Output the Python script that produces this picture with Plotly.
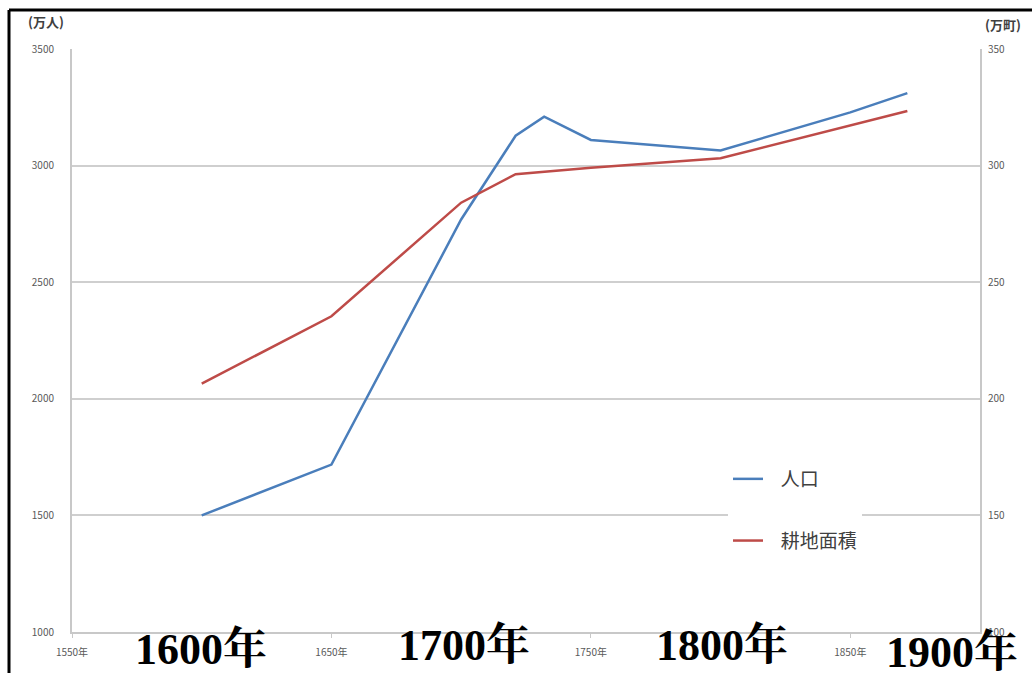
import plotly.graph_objects as go

pop_years = [1600, 1650, 1700, 1721, 1732, 1750, 1800, 1850, 1872]
population = [1500, 1718, 2769, 3128, 3210, 3110, 3065, 3228, 3311]

area_years = [1600, 1650, 1700, 1721, 1750, 1800, 1872]
farmland = [206.5, 235.4, 284.1, 296.3, 299.1, 303.2, 323.4]

x_ticks = [1550, 1650, 1750, 1850]
x_ticktext = ["1550年", "1650年", "1750年", "1850年"]
left_ticks = [1000, 1500, 2000, 2500, 3000, 3500]
right_ticks = [100, 150, 200, 250, 300, 350]
big_labels = ["1600年", "1700年", "1800年", "1900年"]

L, R, T, B = 72, 52, 49, 41
W, H = 1032, 673
pw, ph = W - L - R, H - T - B

def px(x):
    return (x - L) / pw

def py(y):
    return (H - B - y) / ph

NB = "\u00a0\u00a0\u00a0"
fig = go.Figure()
fig.add_trace(go.Scatter(x=pop_years, y=population, mode="lines", name=NB + "人口",
                         legendgroup="a", line=dict(color="#4a7ebb", width=2.5)))
fig.add_trace(go.Scatter(x=area_years, y=farmland, mode="lines", name=NB + "耕地面積",
                         legendgroup="b", yaxis="y2", line=dict(color="#be4b48", width=2.5)))

tickfont = dict(family="Noto Sans CJK JP", size=10, color="#595959")
fig.update_layout(
    width=W, height=H,
    margin=dict(l=L, r=R, t=T, b=B),
    paper_bgcolor="white", plot_bgcolor="white",
    showlegend=True,
    legend=dict(x=px(728), y=py(460), xanchor="left", yanchor="top",
                bgcolor="white", font=dict(family="Noto Sans CJK JP", size=19, color="#404040"),
                tracegroupgap=34, itemwidth=30),
    xaxis=dict(range=[1550, 1900], tickvals=x_ticks, ticktext=x_ticktext,
               showgrid=False, showline=True, linecolor="#c8c8c8", linewidth=2,
               ticks="outside", ticklen=4, tickcolor="#c8c8c8", tickfont=tickfont,
               zeroline=False, ticklabelstandoff=6),
    yaxis=dict(range=[1000, 3500], tickvals=left_ticks, showgrid=True,
               gridcolor="#cfcfcf", gridwidth=2, showline=True, linecolor="#c8c8c8",
               linewidth=2, ticks="", tickfont=tickfont, zeroline=False, ticklabelstandoff=14),
    yaxis2=dict(range=[100, 350], tickvals=right_ticks, overlaying="y", side="right",
                showgrid=False, showline=True, linecolor="#c8c8c8", linewidth=2,
                ticks="", tickfont=tickfont, zeroline=False, ticklabelstandoff=4),
)

annotations = [
    dict(x=px(46), y=py(22), xref="paper", yref="paper", text="<b>(万人)</b>", showarrow=False,
         xanchor="center", yanchor="middle",
         font=dict(family="Noto Sans CJK JP", size=13, color="#404040")),
    dict(x=px(1003), y=py(25), xref="paper", yref="paper", text="<b>(万町)</b>", showarrow=False,
         xanchor="center", yanchor="middle",
         font=dict(family="Noto Sans CJK JP", size=13, color="#404040")),
]
centers = [(201, 649), (464, 645), (722, 645), (952, 652)]
for lab, (cx, cy) in zip(big_labels, centers):
    annotations.append(dict(x=px(cx), y=py(cy), xref="paper", yref="paper", text="<b>" + lab + "</b>",
                            showarrow=False, xanchor="center", yanchor="middle",
                            font=dict(family="Liberation Serif, Noto Serif CJK JP, serif", size=44, color="black")))
fig.update_layout(annotations=annotations)

fig.add_shape(type="line", xref="paper", yref="paper", x0=px(9), x1=px(1032), y0=py(10), y1=py(10),
              line=dict(color="black", width=3))
fig.add_shape(type="line", xref="paper", yref="paper", x0=px(9), x1=px(9), y0=py(10), y1=py(673),
              line=dict(color="black", width=3))

fig.write_html("out.html")
